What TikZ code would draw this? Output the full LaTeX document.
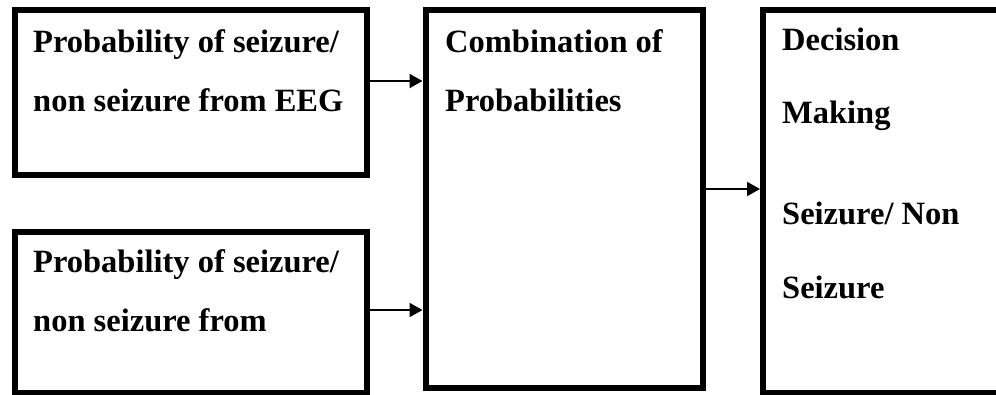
\documentclass[tikz,border=0pt]{standalone}
\usepackage{fontspec}
\setmainfont{Liberation Serif}
\usetikzlibrary{arrows.meta}
\begin{document}
\begin{tikzpicture}[x=1pt,y=-1pt,
  box/.style={draw, line width=6pt, inner sep=0pt, anchor=north west},
  lbl/.style={anchor=base west, inner sep=0pt, font=\fontsize{32.5}{38}\selectfont\bfseries},
  arr/.style={line width=2pt, -{Triangle[length=13pt,width=14pt]}}]
\useasboundingbox (0,0) rectangle (996,394);
\clip (0,0) rectangle (996,394);
\node[box, minimum width=352.5pt, minimum height=165pt] (b1) at (11.5,7) {};
\node[box, minimum width=352.5pt, minimum height=161pt] (b2) at (11.5,229) {};
\node[box, minimum width=277.5pt, minimum height=377.5pt] (b3) at (422.5,7) {};
\node[box, minimum width=245pt, minimum height=383pt] (b4) at (760,7) {};
\node[lbl] (t1a) at (33,52) {Probability of seizure/};
\node[lbl] (t1b) at (33,111) {non seizure from EEG};
\node[lbl] (t2a) at (33,272) {Probability of seizure/};
\node[lbl] (t2b) at (33,331) {non seizure from};
\node[lbl] (t3a) at (445,52) {Combination of};
\node[lbl] (t3b) at (445,111) {Probabilities};
\node[lbl] (t4a) at (782,50) {Decision};
\node[lbl] (t4b) at (782,123) {Making};
\node[lbl] (t4c) at (782,224) {Seizure/ Non};
\node[lbl] (t4d) at (782,298) {Seizure};
\coordinate (y1) at (0,81);
\coordinate (y2) at (0,310);
\coordinate (y3) at (0,189);
\draw[arr] (b1.east |- y1) -- (b3.west |- y1);
\draw[arr] (b2.east |- y2) -- (b3.west |- y2);
\draw[arr] (b3.east |- y3) -- (b4.west |- y3);
\end{tikzpicture}
\end{document}
